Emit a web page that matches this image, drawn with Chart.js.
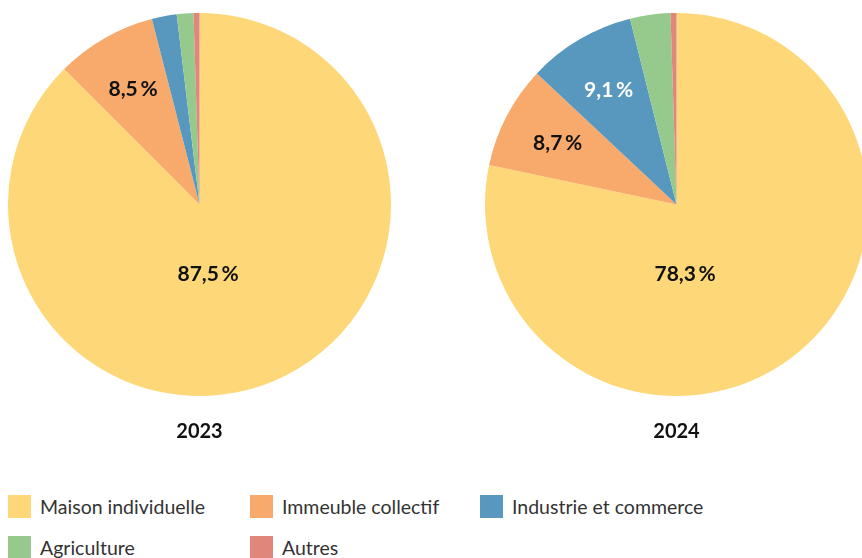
<!DOCTYPE html>
<html>
<head>
<meta charset="utf-8">
<script src="https://cdn.jsdelivr.net/npm/chart.js@4.4.1/dist/chart.umd.min.js"></script>
<style>
  html, body { margin: 0; padding: 0; background: #fff; overflow: hidden; }
  body { width: 862px; height: 558px; position: relative; font-family: Lato, "Noto Sans", sans-serif; }
  .pie { position: absolute; top: 13px; width: 383px; height: 440px; }
  #legend { position: absolute; left: 8px; top: 495px; width: 860px; }
  .item { display: flex; align-items: flex-start; }
  .box { width: 23px; height: 23px; margin-right: 9px; }
  .lab { font-size: 19.5px; color: #333; line-height: 24px; white-space: nowrap; }
</style>
</head>
<body>
<div class="pie" style="left:8px"><canvas id="c1"></canvas></div>
<div class="pie" style="left:485px"><canvas id="c2"></canvas></div>
<div id="legend"></div>
<script>
const categories = ["Maison individuelle", "Immeuble collectif", "Industrie et commerce", "Agriculture", "Autres"];
const years = ["2023", "2024"];
const values2023 = [87.5, 8.5, 2.1, 1.4, 0.5];
const values2024 = [78.3, 8.7, 9.1, 3.4, 0.5];
const colors = ["#FED878", "#F8AA6C", "#5898BF", "#96CA8D", "#E0867A"];
const labelColors = ["#111", "#111", "#fff", "#111", "#111"];

const fmt = v => v.toFixed(1).replace(".", ",") + "\u2009%";

const sliceLabels = {
  id: "sliceLabels",
  afterDatasetsDraw(chart) {
    const ctx = chart.ctx;
    const meta = chart.getDatasetMeta(0);
    const data = chart.data.datasets[0].data;
    ctx.save();
    ctx.font = "bold 21px Lato, 'Noto Sans', sans-serif";
    ctx.textAlign = "center";
    ctx.textBaseline = "middle";
    meta.data.forEach((arc, i) => {
      const v = data[i];
      if (v < 5) return;
      const p = arc.getProps(["x", "y", "startAngle", "endAngle", "outerRadius"], true);
      let x, y;
      if (v > 50) {
        x = p.x + 0.045 * p.outerRadius;
        y = p.y + 0.366 * p.outerRadius;
      } else {
        const a = (p.startAngle + p.endAngle) / 2;
        const d = 0.70 * p.outerRadius;
        x = p.x + Math.cos(a) * d;
        y = p.y + Math.sin(a) * d + 1;
      }
      ctx.fillStyle = labelColors[i];
      ctx.fillText(fmt(v), x, y);
    });
    ctx.restore();
  }
};

function makePie(id, values, year) {
  new Chart(document.getElementById(id), {
    type: "pie",
    data: {
      labels: categories,
      datasets: [{ data: values, backgroundColor: colors, borderWidth: 0 }]
    },
    options: {
      responsive: true,
      maintainAspectRatio: false,
      animation: false,
      layout: { padding: 0 },
      plugins: {
        legend: { display: false },
        tooltip: { enabled: false },
        title: {
          display: true,
          text: year,
          position: "bottom",
          color: "#111",
          font: { family: "Lato, 'Noto Sans', sans-serif", size: 20, weight: "bold", lineHeight: 1.2 },
          padding: { top: 24, bottom: 9 }
        }
      }
    },
    plugins: [sliceLabels]
  });
}
makePie("c1", values2023, years[0]);
makePie("c2", values2024, years[1]);

// legend
const legend = document.getElementById("legend");
const colLefts = [0, 242, 472];
categories.forEach((c, i) => {
  const it = document.createElement("div");
  it.className = "item";
  it.style.position = "absolute";
  it.style.left = colLefts[i % 3] + "px";
  it.style.top = (Math.floor(i / 3) * 41) + "px";
  it.innerHTML = '<div class="box" style="background:' + colors[i] + '"></div><div class="lab">' + c + '</div>';
  legend.appendChild(it);
});
</script>
</body>
</html>
